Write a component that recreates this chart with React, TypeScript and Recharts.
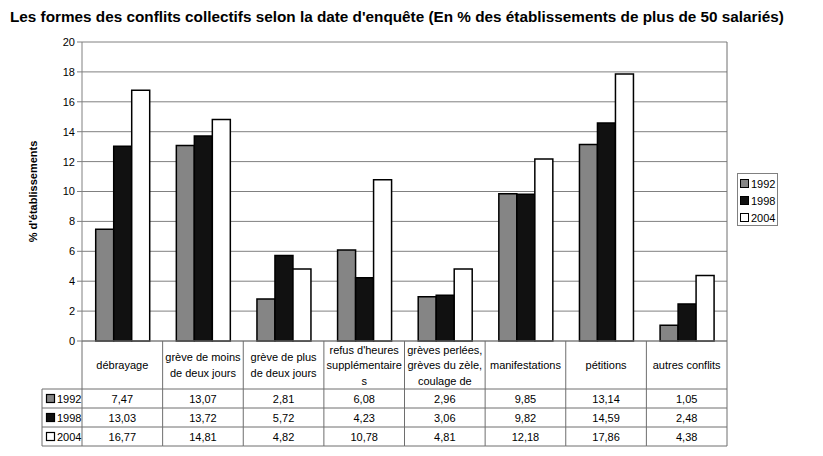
import React from 'react';
import { BarChart, Bar, XAxis, YAxis, CartesianGrid } from 'recharts';

// categories as displayed in the table (line breaks as in the picture)
const CATEGORIES = [
  'débrayage',
  'grève de moins\nde deux jours',
  'grève de plus\nde deux jours',
  "refus d'heures\nsupplémentaire\ns",
  'grèves perlées,\ngrèves du zèle,\ncoulage de',
  'manifestations',
  'pétitions',
  'autres conflits',
];

const YEARS = ['1992', '1998', '2004'];
const V1992 = [7.47, 13.07, 2.81, 6.08, 2.96, 9.85, 13.14, 1.05];
const V1998 = [13.03, 13.72, 5.72, 4.23, 3.06, 9.82, 14.59, 2.48];
const V2004 = [16.77, 14.81, 4.82, 10.78, 4.81, 12.18, 17.86, 4.38];
const Y_TICKS = [0, 2, 4, 6, 8, 10, 12, 14, 16, 18, 20];

const SERIES = [V1992, V1998, V2004];
const FILLS = ['#858585', '#111111', '#ffffff'];

const data = CATEGORIES.map((name, i) => ({
  name,
  y1992: V1992[i],
  y1998: V1998[i],
  y2004: V2004[i],
}));

const W = 823;
const H = 456;
const M = { top: 42, right: 96, bottom: 8, left: 32 };
const Y_AXIS_W = 50;
const X_AXIS_H = 107;
const PLOT_LEFT = M.left + Y_AXIS_W;
const PLOT_RIGHT = W - M.right;
const PLOT_BOTTOM = H - M.bottom - X_AXIS_H;
const CELL_W = (PLOT_RIGHT - PLOT_LEFT) / CATEGORIES.length;
const LABEL_ROW_H = 48;
const ROW_H = 19;
const TABLE_BOTTOM = PLOT_BOTTOM + LABEL_ROW_H + ROW_H * YEARS.length;
const FONT = "'Liberation Sans', Arial, sans-serif";
const LINE = '#6e6e6e';

const fmt = (v: number) => v.toFixed(2).replace('.', ',');

function TableTick(props: any) {
  const { x, index } = props;
  const left = x - CELL_W / 2;
  const right = x + CELL_W / 2;
  const lines = CATEGORIES[index].split('\n');
  const mid = PLOT_BOTTOM + LABEL_ROW_H / 2;
  const first = mid - ((lines.length - 1) * 15.5) / 2 + 4;
  const rowTop = PLOT_BOTTOM + LABEL_ROW_H;
  const last = index === CATEGORIES.length - 1;
  return (
    <g fontFamily={FONT} fontSize={11} fill="#000">
      <line x1={left} y1={PLOT_BOTTOM} x2={left} y2={TABLE_BOTTOM} stroke={LINE} />
      {last && <line x1={right} y1={M.top} x2={right} y2={TABLE_BOTTOM} stroke={LINE} />}
      {lines.map((t, i) => (
        <text key={i} x={x} y={first + i * 15.5} textAnchor="middle">
          {t}
        </text>
      ))}
      {SERIES.map((s, r) => (
        <g key={r}>
          <line x1={left} y1={rowTop + r * ROW_H} x2={right} y2={rowTop + r * ROW_H} stroke={LINE} />
          <text x={x} y={rowTop + r * ROW_H + ROW_H / 2 + 4} textAnchor="middle">
            {fmt(s[index])}
          </text>
        </g>
      ))}
      <line x1={left} y1={TABLE_BOTTOM} x2={right} y2={TABLE_BOTTOM} stroke={LINE} />
      {index === 0 && (
        <g>
          {YEARS.map((yr, r) => {
            const top = rowTop + r * ROW_H;
            return (
              <g key={yr}>
                <line x1={42} y1={top} x2={left} y2={top} stroke={LINE} />
                <rect x={46.5} y={top + 5.5} width={8} height={8} fill={FILLS[r]} stroke="#000" strokeWidth={1.2} />
                <text x={57} y={top + ROW_H / 2 + 4}>{yr}</text>
              </g>
            );
          })}
          <line x1={42} y1={rowTop} x2={42} y2={TABLE_BOTTOM} stroke={LINE} />
          <line x1={42} y1={TABLE_BOTTOM} x2={left} y2={TABLE_BOTTOM} stroke={LINE} />
        </g>
      )}
    </g>
  );
}

function YLabel(props: any) {
  const cx = 33;
  const cy = M.top + (PLOT_BOTTOM - M.top) / 2;
  return (
    <text
      x={cx}
      y={cy}
      transform={`rotate(-90 ${cx} ${cy})`}
      textAnchor="middle"
      dominantBaseline="central"
      fontFamily={FONT}
      fontSize={11}
      fontWeight="bold"
      fill="#000"
    >
      % d'établissements
    </text>
  );
}

export default function App() {
  return (
    <div style={{ position: 'absolute', left: 0, top: 0, width: W, height: H, background: '#fff' }}>
      <div
        style={{
          position: 'absolute',
          left: 10,
          top: 8,
          fontFamily: FONT,
          fontSize: 15.3,
          fontWeight: 'bold',
          color: '#000',
          whiteSpace: 'nowrap',
        }}
      >
        Les formes des conflits collectifs selon la date d'enquête (En % des établissements de plus de 50 salariés)
      </div>
      <BarChart width={W} height={H} data={data} margin={M} barCategoryGap="17%" barGap={0}>
        <CartesianGrid vertical={false} stroke="#808080" strokeWidth={1} />
        <XAxis
          dataKey="name"
          height={X_AXIS_H}
          interval={0}
          tickLine={false}
          axisLine={{ stroke: '#808080' }}
          tick={<TableTick />}
        />
        <YAxis
          width={Y_AXIS_W}
          domain={[0, 20]}
          ticks={Y_TICKS}
          interval={0}
          tickSize={5}
          tickLine={{ stroke: '#808080' }}
          axisLine={{ stroke: '#808080' }}
          tick={{ fontFamily: FONT, fontSize: 11, fill: '#000' }}
          label={<YLabel />}
        />
        <Bar dataKey="y1992" fill={FILLS[0]} stroke="#000" strokeWidth={1.5} isAnimationActive={false} />
        <Bar dataKey="y1998" fill={FILLS[1]} stroke="#000" strokeWidth={1.5} isAnimationActive={false} />
        <Bar dataKey="y2004" fill={FILLS[2]} stroke="#000" strokeWidth={1.5} isAnimationActive={false} />
      </BarChart>
      <div
        style={{
          position: 'absolute',
          left: 737,
          top: 173,
          width: 39,
          height: 51,
          border: '1px solid #808080',
          fontFamily: FONT,
          fontSize: 11,
          color: '#000',
        }}
      >
        {YEARS.map((yr, r) => (
          <div key={yr} style={{ position: 'absolute', left: 2, top: 2 + r * 17, height: 15, display: 'flex', alignItems: 'center' }}>
            <span
              style={{
                display: 'inline-block',
                width: 7,
                height: 7,
                background: FILLS[r],
                border: '1.2px solid #000',
                marginRight: 2,
              }}
            />
            {yr}
          </div>
        ))}
      </div>
    </div>
  );
}
